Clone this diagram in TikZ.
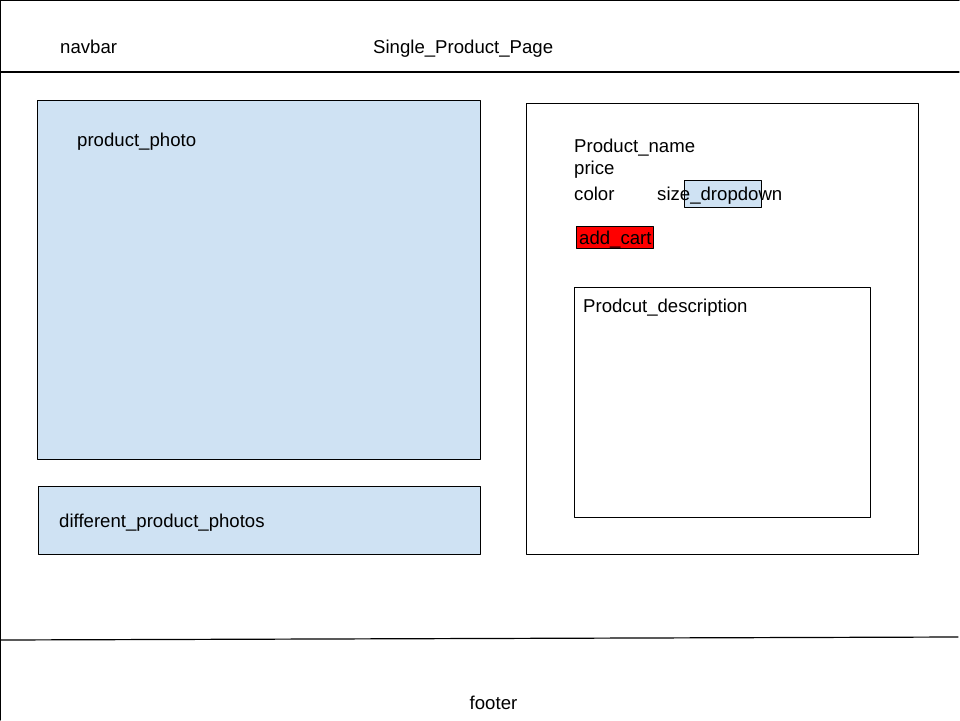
\documentclass[tikz,border=0pt]{standalone}
\usepackage{fontspec}
\setmainfont{Liberation Sans}
\definecolor{photoblue}{HTML}{CFE2F3}
\definecolor{cartred}{HTML}{FF0000}
\begin{document}
\begin{tikzpicture}[x=1pt, y=-1pt, font=\fontsize{18.6}{22}\selectfont, line join=round, line cap=round, lbl/.style={anchor=base west, inner sep=0pt}]
			\useasboundingbox (0,0) rectangle (960,720);
			% page frame and bars
			\draw [line width=1.2pt] (0.6,720) -- (0.6,0.6) -- (959,0.6);
			\draw [line width=1.2pt] (0,72) -- (959,72);
			\draw [line width=1.2pt] (0,640) -- (958,637);
			\node[lbl] (navbar) at (60,53) {navbar};
			\node[lbl] (title) at (373,53) {Single\_Product\_Page};
			% left column
			\fill [photoblue] (37,100) rectangle (480,459);
			\draw [line width=1pt] (37,100) rectangle (480,459);
			\node[lbl] (photo) at (77,146) {product\_photo};
			\fill [photoblue] (38,486) rectangle (480,554);
			\draw [line width=1pt] (38,486) rectangle (480,554);
			\node[lbl] (photos) at (59,527) {different\_product\_photos};
			% right column
			\draw [line width=1pt] (526,103) rectangle (918,554);
			\node[lbl] (name) at (574,152) {Product\_name};
			\node[lbl] (price) at (574,174) {price};
			\node[lbl] (color) at (574,200) {color};
			\fill [photoblue] (684,180) rectangle (761,207);
			\draw [line width=1pt] (684,180) rectangle (761,207);
			\node[lbl] (size) at (657,200) {size\_dropdown};
			\fill [cartred] (576,226) rectangle (653,248);
			\draw [line width=1pt] (576,226) rectangle (653,248);
			\node[lbl] (cart) at (579,244) {add\_cart};
			\draw [line width=1pt] (574,287) rectangle (870,517);
			\node[lbl] (desc) at (583,312.5) {Prodcut\_description};
			% footer
			\node[anchor=base, inner sep=0pt] (footer) at (493.5,709) {footer};
		\end{tikzpicture}
\end{document}
